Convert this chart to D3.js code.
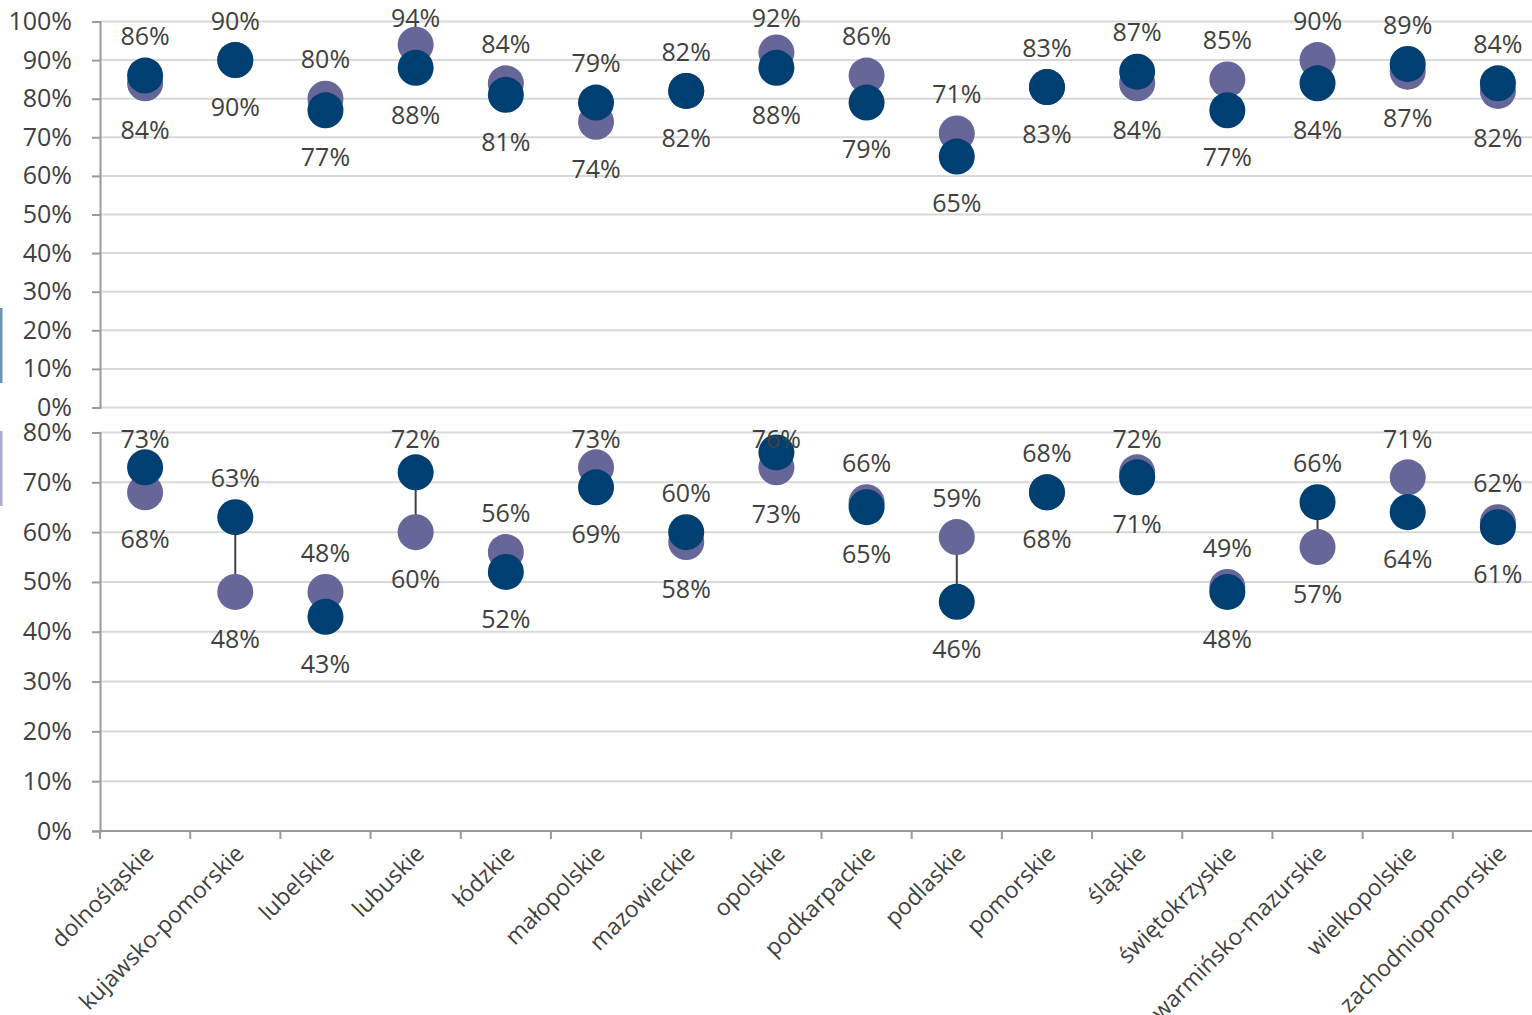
<!DOCTYPE html>
<html>
<head>
<meta charset="utf-8">
<script src="https://cdn.jsdelivr.net/npm/d3@7"></script>
<style>
  html, body { margin: 0; padding: 0; background: #fff; }
  svg { display: block; }
  text { font-family: "Open Sans", "Noto Sans", sans-serif; fill: #404040; }
</style>
</head>
<body>
<svg id="chart" width="1532" height="1015"></svg>
<script>
// Voivodeships (categories)
const categories = [
  "dolnośląskie", "kujawsko-pomorskie", "lubelskie", "lubuskie", "łódzkie",
  "małopolskie", "mazowieckie", "opolskie", "podkarpackie", "podlaskie",
  "pomorskie", "śląskie", "świętokrzyskie", "warmińsko-mazurskie",
  "wielkopolskie", "zachodniopomorskie"
];

// Upper panel, shares in %
const upperNavy   = [86, 90, 77, 88, 81, 79, 82, 88, 79, 65, 83, 87, 77, 84, 89, 84];
const upperPurple = [84, 90, 80, 94, 84, 74, 82, 92, 86, 71, 83, 84, 85, 90, 87, 82];

// Lower panel, shares in %
const lowerNavy   = [73, 63, 43, 72, 52, 69, 60, 76, 65, 46, 68, 71, 48, 66, 64, 61];
const lowerPurple = [68, 48, 48, 60, 56, 73, 58, 73, 66, 59, 68, 72, 49, 57, 71, 62];

// Axis tick values
const upperTicks = [0, 10, 20, 30, 40, 50, 60, 70, 80, 90, 100];
const lowerTicks = [0, 10, 20, 30, 40, 50, 60, 70, 80];

const W = 1532, H = 1015;
const NAVY = "#003f72", PURPLE = "#666699";
const GRID = "#d9d9d9", AXIS = "#9a9a9a", TEXT = "#404040";
const R = 18;

const svg = d3.select("#chart");

const x = d3.scaleBand().domain(categories).range([100, 1543]);

const panels = [
  { navy: upperNavy, purple: upperPurple, ticks: upperTicks,
    y: d3.scaleLinear().domain([0, 100]).range([407.5, 21.5]),
    clampTop: 18, xAxis: false, side: { y0: 308, y1: 383, color: "#6d92b8" } },
  { navy: lowerNavy, purple: lowerPurple, ticks: lowerTicks,
    y: d3.scaleLinear().domain([0, 80]).range([831, 432.5]),
    clampTop: 439, xAxis: true, side: { y0: 431, y1: 506, color: "#aaaad0" } }
];

panels.forEach(p => {
  const g = svg.append("g");
  const y = p.y;

  // edge markers on the far left
  g.append("rect")
    .attr("x", 0).attr("y", p.side.y0)
    .attr("width", 2.5).attr("height", p.side.y1 - p.side.y0)
    .attr("fill", p.side.color);

  // horizontal gridlines
  g.append("g").selectAll("line")
    .data(p.ticks.filter(t => !(p.xAxis && t === 0)))
    .join("line")
    .attr("x1", 100).attr("x2", W)
    .attr("y1", d => y(d)).attr("y2", d => y(d))
    .attr("stroke", GRID).attr("stroke-width", 2);

  // y axis
  const yAxis = d3.axisLeft(y)
    .tickValues(p.ticks)
    .tickSize(8)
    .tickPadding(20)
    .tickFormat(d => d + "%");
  const ya = g.append("g").attr("transform", "translate(100,0)").call(yAxis);
  ya.select(".domain").attr("stroke", AXIS).attr("stroke-width", 2);
  ya.selectAll(".tick line").attr("stroke", AXIS).attr("stroke-width", 2);
  ya.selectAll(".tick text")
    .attr("font-size", 25)
    .attr("fill", TEXT)
    .style("font-family", "'Open Sans', sans-serif");

  // x axis with category labels
  if (p.xAxis) {
    const y0 = y(0);
    g.append("line")
      .attr("x1", 100).attr("x2", W)
      .attr("y1", y0).attr("y2", y0)
      .attr("stroke", AXIS).attr("stroke-width", 2);
    const bounds = categories.map(c => x(c)).concat([x.range()[1]]);
    g.append("g").selectAll("line")
      .data(bounds.filter(b => b <= W))
      .join("line")
      .attr("x1", d => d).attr("x2", d => d)
      .attr("y1", y0).attr("y2", y0 + 8)
      .attr("stroke", AXIS).attr("stroke-width", 2);
    g.append("g").selectAll("text")
      .data(categories)
      .join("text")
      .attr("transform", d => `translate(${x(d) + x.bandwidth() / 2 + 10},${y0 + 24}) rotate(-45)`)
      .attr("text-anchor", "end")
      .attr("font-size", 23)
      .attr("fill", TEXT)
      .text(d => d);
  }

  const rows = categories.map((c, i) => ({
    c, navy: p.navy[i], purple: p.purple[i],
    hi: Math.max(p.navy[i], p.purple[i]), lo: Math.min(p.navy[i], p.purple[i])
  }));
  const cx = d => x(d.c) + x.bandwidth() / 2;

  // high-low connectors
  g.append("g").selectAll("line")
    .data(rows)
    .join("line")
    .attr("x1", cx).attr("x2", cx)
    .attr("y1", d => y(d.hi)).attr("y2", d => y(d.lo))
    .attr("stroke", TEXT).attr("stroke-width", 2);

  // purple markers beneath navy markers
  g.append("g").selectAll("circle")
    .data(rows)
    .join("circle")
    .attr("cx", cx).attr("cy", d => y(d.purple)).attr("r", R)
    .attr("fill", PURPLE);
  g.append("g").selectAll("circle")
    .data(rows)
    .join("circle")
    .attr("cx", cx).attr("cy", d => y(d.navy)).attr("r", R)
    .attr("fill", NAVY);

  // value labels: higher value above, lower value below
  const lbl = g.append("g").attr("font-size", 25).attr("text-anchor", "middle");
  lbl.selectAll("text.hi")
    .data(rows)
    .join("text")
    .attr("class", "hi")
    .attr("x", cx)
    .attr("y", d => Math.max(p.clampTop, y(d.hi) - 39))
    .attr("dy", "0.35em")
    .attr("fill", TEXT)
    .text(d => d.hi + "%");
  lbl.selectAll("text.lo")
    .data(rows)
    .join("text")
    .attr("class", "lo")
    .attr("x", cx)
    .attr("y", d => y(d.lo) + 47)
    .attr("dy", "0.35em")
    .attr("fill", TEXT)
    .text(d => d.lo + "%");
});
</script>
</body>
</html>
